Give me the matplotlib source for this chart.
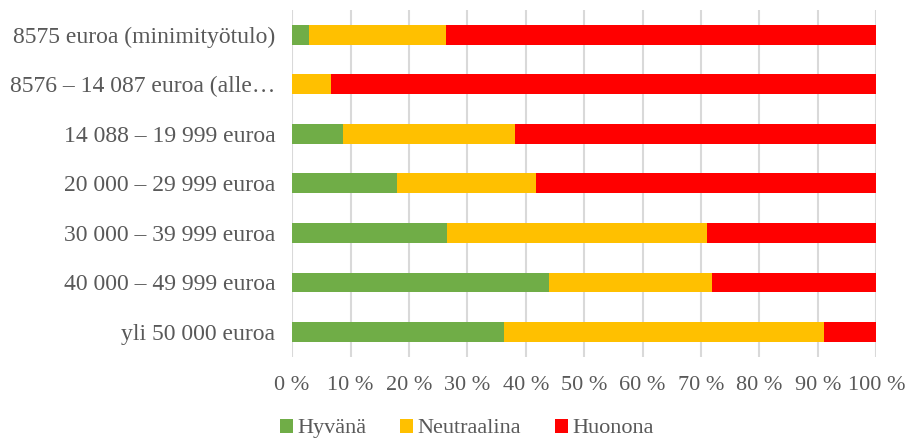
import matplotlib.pyplot as plt
import numpy as np

plt.rcParams['font.family'] = ['Liberation Serif', 'DejaVu Serif']

categories = ["8575 euroa (minimityötulo)",
              "8576 – 14 087 euroa (alle…",
              "14 088 – 19 999 euroa",
              "20 000 – 29 999 euroa",
              "30 000 – 39 999 euroa",
              "40 000 – 49 999 euroa",
              "yli 50 000 euroa"]
hyvana = [2.9, 0.0, 8.7, 17.9, 26.5, 43.9, 36.2]
neutraali = [23.5, 6.6, 29.4, 23.9, 44.6, 28.0, 54.8]
huonona = [73.6, 93.4, 61.9, 58.2, 28.9, 28.1, 9.0]
series = ["Hyvänä", "Neutraalina", "Huonona"]
colors = ["#70ad47", "#ffc000", "#ff0000"]
txt = "#595959"

fig = plt.figure(figsize=(9.1, 4.46), dpi=100)
ax = fig.add_axes([0.321, 0.2, 0.642, 0.778])

y = np.arange(len(categories))
left = np.zeros(len(categories))
for name, vals, c in zip(series, [hyvana, neutraali, huonona], colors):
    ax.barh(y, vals, left=left, height=0.4, color=c, label=name, zorder=3)
    left += np.array(vals)

ax.set_ylim(6.5, -0.5)
ax.set_xlim(0, 100)
ax.set_xticks(np.arange(0, 101, 10))
ax.set_xticklabels([f"{v} %" for v in range(0, 101, 10)])
ax.set_yticks(y)
ax.set_yticklabels(categories)
ax.grid(axis='x', color='#d9d9d9', linewidth=1.5, zorder=0)
for s in ax.spines.values():
    s.set_visible(False)
ax.tick_params(axis='both', length=0, labelsize=16, labelcolor=txt)
ax.tick_params(axis='y', labelsize=17, pad=12)
ax.tick_params(axis='x', pad=14)

fig.legend(loc='lower center', bbox_to_anchor=(0.513, -0.028), ncol=3, frameon=False,
           fontsize=16, labelcolor=txt, handlelength=0.6, handleheight=0.6,
           handletextpad=0.2, columnspacing=1.5)

fig.savefig("out.png", dpi=100)
